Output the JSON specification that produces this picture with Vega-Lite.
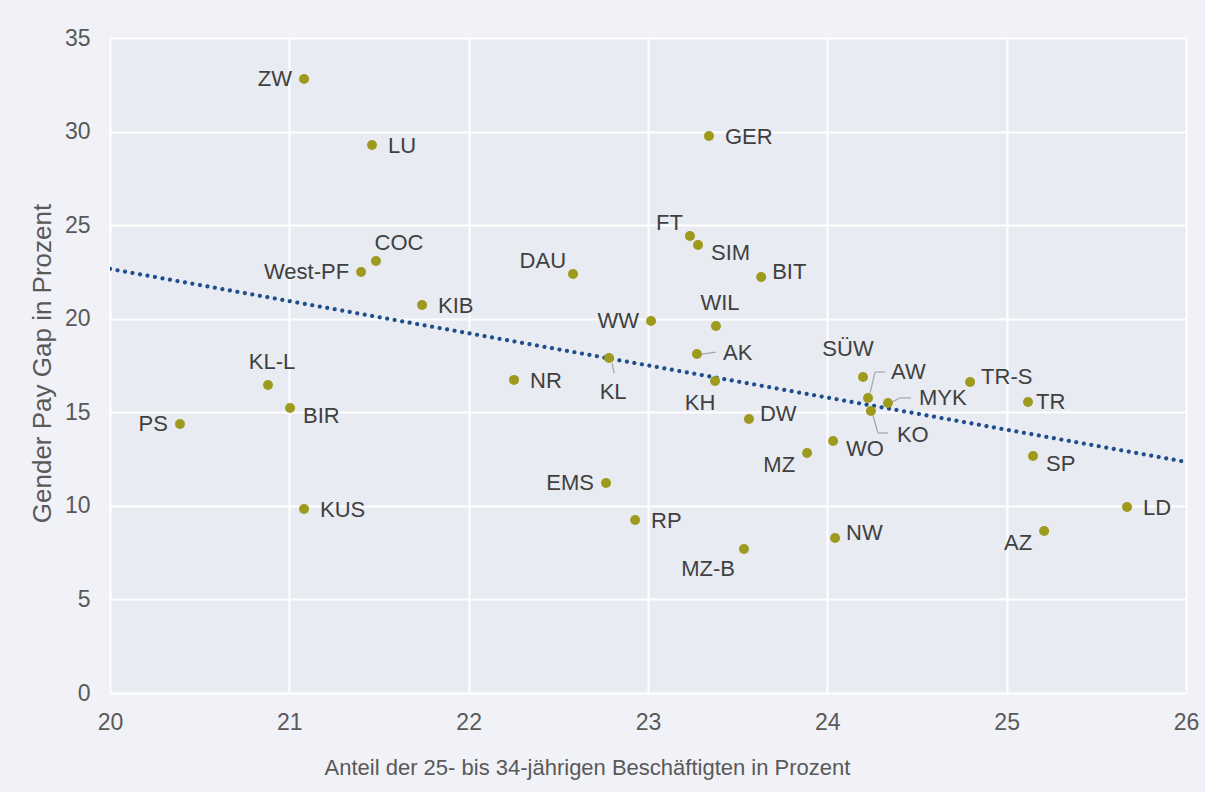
{
  "$schema": "https://vega.github.io/schema/vega-lite/v6.json",
  "width": 1076,
  "height": 655,
  "autosize": {"type": "none"},
  "padding": {"left": 110, "top": 38, "right": 19, "bottom": 99},
  "background": "#f0f2f7",
  "config": {
    "view": {"fill": "#e8ebf2", "stroke": null},
    "font": "Liberation Sans",
    "axis": {
      "grid": true, "gridColor": "#ffffff", "gridWidth": 2, "domain": false, "ticks": false,
      "labelFont": "Liberation Sans", "labelFontSize": 23, "labelColor": "#595959", "labelFlush": false,
      "titleFont": "Liberation Sans", "titleFontWeight": "normal", "titleColor": "#595959"
    }
  },
  "datasets": {
    "pts": [
      {"name": "ZW", "x": 21.082, "y": 32.81, "pos": "left"},
      {"name": "LU", "x": 21.461, "y": 29.28, "pos": "right"},
      {"name": "GER", "x": 23.34, "y": 29.76, "pos": "right"},
      {"name": "FT", "x": 23.234, "y": 24.42, "pos": "left-up"},
      {"name": "SIM", "x": 23.279, "y": 23.94, "pos": "right-down"},
      {"name": "COC", "x": 21.483, "y": 23.08, "pos": "top-right"},
      {"name": "West-PF", "x": 21.4, "y": 22.5, "pos": "left"},
      {"name": "DAU", "x": 22.582, "y": 22.39, "pos": "left-up"},
      {"name": "BIT", "x": 23.631, "y": 22.23, "pos": "right-up"},
      {"name": "KIB", "x": 21.74, "y": 20.73, "pos": "right"},
      {"name": "WW", "x": 23.017, "y": 19.88, "pos": "left"},
      {"name": "WIL", "x": 23.379, "y": 19.61, "pos": "top"},
      {"name": "KL", "x": 22.783, "y": 17.9, "pos": "KL"},
      {"name": "AK", "x": 23.273, "y": 18.11, "pos": "AK"},
      {"name": "NR", "x": 22.253, "y": 16.73, "pos": "right"},
      {"name": "KL-L", "x": 20.881, "y": 16.46, "pos": "top"},
      {"name": "KH", "x": 23.374, "y": 16.67, "pos": "bottom-left"},
      {"name": "SÜW", "x": 24.199, "y": 16.89, "pos": "top-left"},
      {"name": "AW", "x": 24.227, "y": 15.76, "pos": "AW"},
      {"name": "TR-S", "x": 24.796, "y": 16.62, "pos": "right-up"},
      {"name": "MYK", "x": 24.338, "y": 15.5, "pos": "MYK"},
      {"name": "KO", "x": 24.243, "y": 15.07, "pos": "KO"},
      {"name": "TR", "x": 25.119, "y": 15.55, "pos": "right-near"},
      {"name": "BIR", "x": 21.004, "y": 15.23, "pos": "right-down"},
      {"name": "PS", "x": 20.39, "y": 14.37, "pos": "left"},
      {"name": "DW", "x": 23.563, "y": 14.64, "pos": "right-up"},
      {"name": "WO", "x": 24.032, "y": 13.47, "pos": "right-down"},
      {"name": "MZ", "x": 23.887, "y": 12.82, "pos": "left-down"},
      {"name": "SP", "x": 25.147, "y": 12.66, "pos": "right-down"},
      {"name": "EMS", "x": 22.766, "y": 11.22, "pos": "left"},
      {"name": "KUS", "x": 21.082, "y": 9.83, "pos": "right"},
      {"name": "LD", "x": 25.671, "y": 9.94, "pos": "right"},
      {"name": "RP", "x": 22.928, "y": 9.24, "pos": "right"},
      {"name": "AZ", "x": 25.209, "y": 8.66, "pos": "left-down"},
      {"name": "NW", "x": 24.043, "y": 8.28, "pos": "right-up"},
      {"name": "MZ-B", "x": 23.535, "y": 7.69, "pos": "below-left"}
    ],
    "trend": [
      {"x": 20, "y": 22.66},
      {"x": 26, "y": 12.35}
    ]
  },
  "data": {"name": "pts"},
  "encoding": {
    "x": {"field": "x", "type": "quantitative",
      "scale": {"domain": [20, 26], "nice": false, "zero": false},
      "axis": {"values": [20, 21, 22, 23, 24, 25, 26], "labelPadding": 18,
        "title": "Anteil der 25- bis 34-jährigen Beschäftigten in Prozent",
        "titleFontSize": 22, "titleX": 477, "titleY": 74, "titleBaseline": "middle", "titleAlign": "center"}},
    "y": {"field": "y", "type": "quantitative",
      "scale": {"domain": [0, 35], "nice": false},
      "axis": {"values": [0, 5, 10, 15, 20, 25, 30, 35], "labelPadding": 20,
        "title": "Gender Pay Gap in Prozent", "titleFontSize": 26,
        "titleX": -68, "titleY": 325, "titleAngle": -90, "titleBaseline": "middle", "titleAlign": "center"}}
  },
  "layer": [
    {"data": {"name": "trend"}, "mark": {"type": "line", "color": "#1f4e8d", "strokeWidth": 4.2, "strokeDash": [0.01, 7.6], "strokeCap": "round", "clip": true},
     "encoding": {"x": {"field": "x", "type": "quantitative"}, "y": {"field": "y", "type": "quantitative"}}},
    {"transform": [{"filter": "datum.pos == 'AK'"}], "mark": {"type": "rule", "color": "#a6a6a6", "strokeWidth": 1.2, "xOffset": 5, "yOffset": 0, "x2Offset": 19, "y2Offset": -2},
     "encoding": {"x2": {"field": "x"}, "y2": {"field": "y"}}},
    {"transform": [{"filter": "datum.pos == 'KL'"}], "mark": {"type": "rule", "color": "#a6a6a6", "strokeWidth": 1.2, "xOffset": 3, "yOffset": 5, "x2Offset": 5, "y2Offset": 15},
     "encoding": {"x2": {"field": "x"}, "y2": {"field": "y"}}},
    {"transform": [{"filter": "datum.pos == 'AW'"}], "mark": {"type": "rule", "color": "#a6a6a6", "strokeWidth": 1.2, "xOffset": 2, "yOffset": -5, "x2Offset": 7, "y2Offset": -26},
     "encoding": {"x2": {"field": "x"}, "y2": {"field": "y"}}},
    {"transform": [{"filter": "datum.pos == 'AW'"}], "mark": {"type": "rule", "color": "#a6a6a6", "strokeWidth": 1.2, "xOffset": 7, "yOffset": -26, "x2Offset": 17, "y2Offset": -26},
     "encoding": {"x2": {"field": "x"}, "y2": {"field": "y"}}},
    {"transform": [{"filter": "datum.pos == 'MYK'"}], "mark": {"type": "rule", "color": "#a6a6a6", "strokeWidth": 1.2, "xOffset": 4, "yOffset": -1, "x2Offset": 12, "y2Offset": -5},
     "encoding": {"x2": {"field": "x"}, "y2": {"field": "y"}}},
    {"transform": [{"filter": "datum.pos == 'MYK'"}], "mark": {"type": "rule", "color": "#a6a6a6", "strokeWidth": 1.2, "xOffset": 12, "yOffset": -5, "x2Offset": 23, "y2Offset": -5},
     "encoding": {"x2": {"field": "x"}, "y2": {"field": "y"}}},
    {"transform": [{"filter": "datum.pos == 'KO'"}], "mark": {"type": "rule", "color": "#a6a6a6", "strokeWidth": 1.2, "xOffset": 2, "yOffset": 4, "x2Offset": 7, "y2Offset": 22},
     "encoding": {"x2": {"field": "x"}, "y2": {"field": "y"}}},
    {"transform": [{"filter": "datum.pos == 'KO'"}], "mark": {"type": "rule", "color": "#a6a6a6", "strokeWidth": 1.2, "xOffset": 7, "yOffset": 22, "x2Offset": 17, "y2Offset": 22},
     "encoding": {"x2": {"field": "x"}, "y2": {"field": "y"}}},
    {"mark": {"type": "point", "filled": true, "shape": "circle", "size": 100, "color": "#9e9a1e", "opacity": 1}},
    {"transform": [{"filter": "datum.pos == 'right'"}], "mark": {"type": "text", "align": "left", "baseline": "middle", "dx": 16, "dy": 1, "fontSize": 22, "color": "#404040"}, "encoding": {"text": {"field": "name"}}},
    {"transform": [{"filter": "datum.pos == 'right-near'"}], "mark": {"type": "text", "align": "left", "baseline": "middle", "dx": 8, "dy": 0, "fontSize": 22, "color": "#404040"}, "encoding": {"text": {"field": "name"}}},
    {"transform": [{"filter": "datum.pos == 'right-up'"}], "mark": {"type": "text", "align": "left", "baseline": "middle", "dx": 11, "dy": -5, "fontSize": 22, "color": "#404040"}, "encoding": {"text": {"field": "name"}}},
    {"transform": [{"filter": "datum.pos == 'right-down'"}], "mark": {"type": "text", "align": "left", "baseline": "middle", "dx": 13, "dy": 8, "fontSize": 22, "color": "#404040"}, "encoding": {"text": {"field": "name"}}},
    {"transform": [{"filter": "datum.pos == 'left'"}], "mark": {"type": "text", "align": "right", "baseline": "middle", "dx": -12, "dy": 0, "fontSize": 22, "color": "#404040"}, "encoding": {"text": {"field": "name"}}},
    {"transform": [{"filter": "datum.pos == 'left-up'"}], "mark": {"type": "text", "align": "right", "baseline": "middle", "dx": -7, "dy": -13, "fontSize": 22, "color": "#404040"}, "encoding": {"text": {"field": "name"}}},
    {"transform": [{"filter": "datum.pos == 'left-down'"}], "mark": {"type": "text", "align": "right", "baseline": "middle", "dx": -12, "dy": 12, "fontSize": 22, "color": "#404040"}, "encoding": {"text": {"field": "name"}}},
    {"transform": [{"filter": "datum.pos == 'below-left'"}], "mark": {"type": "text", "align": "right", "baseline": "middle", "dx": -9, "dy": 20, "fontSize": 22, "color": "#404040"}, "encoding": {"text": {"field": "name"}}},
    {"transform": [{"filter": "datum.pos == 'top'"}], "mark": {"type": "text", "align": "center", "baseline": "middle", "dx": 4, "dy": -23, "fontSize": 22, "color": "#404040"}, "encoding": {"text": {"field": "name"}}},
    {"transform": [{"filter": "datum.pos == 'top-right'"}], "mark": {"type": "text", "align": "center", "baseline": "middle", "dx": 23, "dy": -18, "fontSize": 22, "color": "#404040"}, "encoding": {"text": {"field": "name"}}},
    {"transform": [{"filter": "datum.pos == 'top-left'"}], "mark": {"type": "text", "align": "center", "baseline": "middle", "dx": -15, "dy": -28, "fontSize": 22, "color": "#404040"}, "encoding": {"text": {"field": "name"}}},
    {"transform": [{"filter": "datum.pos == 'bottom-left'"}], "mark": {"type": "text", "align": "center", "baseline": "middle", "dx": -15, "dy": 22, "fontSize": 22, "color": "#404040"}, "encoding": {"text": {"field": "name"}}},
    {"transform": [{"filter": "datum.pos == 'KL'"}], "mark": {"type": "text", "align": "center", "baseline": "middle", "dx": 4, "dy": 34, "fontSize": 22, "color": "#404040"}, "encoding": {"text": {"field": "name"}}},
    {"transform": [{"filter": "datum.pos == 'AK'"}], "mark": {"type": "text", "align": "left", "baseline": "middle", "dx": 26, "dy": -1, "fontSize": 22, "color": "#404040"}, "encoding": {"text": {"field": "name"}}},
    {"transform": [{"filter": "datum.pos == 'AW'"}], "mark": {"type": "text", "align": "left", "baseline": "middle", "dx": 23, "dy": -26, "fontSize": 22, "color": "#404040"}, "encoding": {"text": {"field": "name"}}},
    {"transform": [{"filter": "datum.pos == 'MYK'"}], "mark": {"type": "text", "align": "left", "baseline": "middle", "dx": 31, "dy": -5, "fontSize": 22, "color": "#404040"}, "encoding": {"text": {"field": "name"}}},
    {"transform": [{"filter": "datum.pos == 'KO'"}], "mark": {"type": "text", "align": "left", "baseline": "middle", "dx": 26, "dy": 24, "fontSize": 22, "color": "#404040"}, "encoding": {"text": {"field": "name"}}}
  ]
}
